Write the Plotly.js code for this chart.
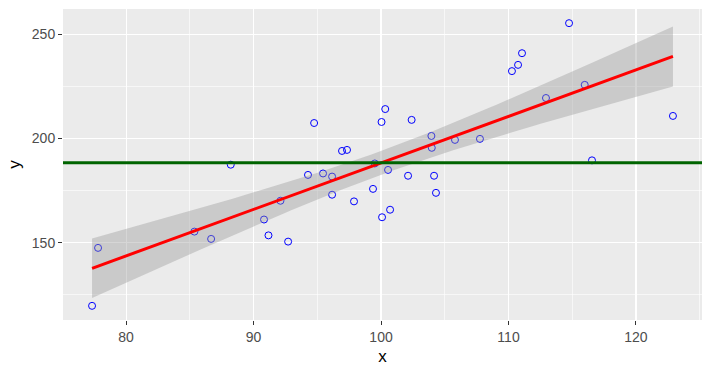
<!DOCTYPE html>
<html>
<head>
<meta charset="utf-8">
<script src="https://cdn.plot.ly/plotly-3.0.1.min.js"></script>
<style>html,body{margin:0;padding:0;background:#fff;}#chart{width:712px;height:376px;}</style>
</head>
<body>
<div id="chart"></div>
<script>
// Scatter data
const xValues = [77.33, 77.8, 85.36, 86.67, 88.21, 90.82, 91.17, 92.11, 92.71, 94.27,
                 94.75, 95.45, 96.16, 96.16, 96.94, 97.33, 97.88, 99.37, 99.51, 100.04,
                 100.08, 100.33, 100.55, 100.71, 102.12, 102.4, 103.95, 103.98, 104.16, 104.31,
                 105.8, 107.76, 110.27, 110.75, 111.06, 112.94, 114.75, 115.98, 116.55, 122.9];
const yValues = [119.7, 147.5, 155.3, 151.8, 187.4, 161.1, 153.5, 170.1, 150.5, 182.5,
                 207.4, 183.2, 181.7, 173.0, 194.0, 194.5, 169.8, 175.8, 188.0, 207.9,
                 162.2, 214.1, 184.9, 165.8, 182.1, 208.9, 201.2, 195.5, 182.1, 173.9,
                 199.3, 199.8, 232.3, 235.3, 240.9, 219.4, 255.3, 225.7, 189.5, 210.8];
const xTicks = [80, 90, 100, 110, 120];
const yTicks = [150, 200, 250];

// Linear fit with 95% confidence band (as geom_smooth(method = "lm"))
const n = xValues.length;
const mx = xValues.reduce((a, b) => a + b, 0) / n;
const my = yValues.reduce((a, b) => a + b, 0) / n;
let sxx = 0, sxy = 0;
for (let i = 0; i < n; i++) { sxx += (xValues[i] - mx) ** 2; sxy += (xValues[i] - mx) * (yValues[i] - my); }
const slope = sxy / sxx, icpt = my - slope * mx;
let sse = 0;
for (let i = 0; i < n; i++) sse += (yValues[i] - (icpt + slope * xValues[i])) ** 2;
const sigma = Math.sqrt(sse / (n - 2));
const tq = 2.024;
const xmin = Math.min(...xValues), xmax = Math.max(...xValues);
const fx = [], fy = [], lo = [], hi = [];
for (let k = 0; k < 80; k++) {
  const xv = xmin + (xmax - xmin) * k / 79;
  const yv = icpt + slope * xv;
  const se = sigma * Math.sqrt(1 / n + (xv - mx) ** 2 / sxx);
  fx.push(xv); fy.push(yv); lo.push(yv - tq * se); hi.push(yv + tq * se);
}

const traces = [
  { x: xValues, y: yValues, type: 'scatter', mode: 'markers',
    marker: { symbol: 'circle-open', size: 7, color: 'blue', line: { width: 1, color: 'blue' } },
    showlegend: false, hoverinfo: 'skip' },
  { x: fx.concat(fx.slice().reverse()), y: hi.concat(lo.slice().reverse()),
    type: 'scatter', mode: 'lines', fill: 'toself', fillcolor: 'rgba(153,153,153,0.4)',
    line: { width: 0, color: 'rgba(0,0,0,0)' }, showlegend: false, hoverinfo: 'skip' },
  { x: fx, y: fy, type: 'scatter', mode: 'lines', line: { color: 'red', width: 3 },
    showlegend: false, hoverinfo: 'skip' },
  { x: [75.05, 125.18], y: [my, my], type: 'scatter', mode: 'lines',
    line: { color: '#006400', width: 3 }, showlegend: false, hoverinfo: 'skip' }
];

const fontFam = '"Liberation Sans", Arial, sans-serif';
const layout = {
  width: 712, height: 376,
  margin: { l: 63, r: 10, t: 9, b: 56 },
  paper_bgcolor: '#ffffff', plot_bgcolor: '#EBEBEB',
  font: { family: fontFam },
  showlegend: false,
  xaxis: {
    range: [75.05, 125.18], tickvals: xTicks, ticktext: xTicks.map(String),
    showgrid: true, gridcolor: '#ffffff', gridwidth: 1.1, zeroline: false,
    ticks: 'outside', ticklen: 4, tickwidth: 1, tickcolor: '#333333',
    tickfont: { size: 14, color: '#4D4D4D', family: fontFam },
    minor: { tickvals: [75, 85, 95, 105, 115, 125], showgrid: true, gridcolor: '#ffffff', gridwidth: 0.6, ticks: '' },
    showline: false,
    title: { text: 'x', font: { size: 17, color: '#000000', family: fontFam }, standoff: 6 }
  },
  yaxis: {
    range: [112.9, 262.1], tickvals: yTicks, ticktext: yTicks.map(String),
    showgrid: true, gridcolor: '#ffffff', gridwidth: 1.1, zeroline: false,
    ticks: 'outside', ticklen: 4, tickwidth: 1, tickcolor: '#333333',
    tickfont: { size: 14, color: '#4D4D4D', family: fontFam },
    minor: { tickvals: [125, 175, 225], showgrid: true, gridcolor: '#ffffff', gridwidth: 0.6, ticks: '' },
    showline: false,
    title: { text: 'y', font: { size: 17, color: '#000000', family: fontFam }, standoff: 6 }
  }
};
Plotly.newPlot('chart', traces, layout, { staticPlot: true, displayModeBar: false });
</script>
</body>
</html>
